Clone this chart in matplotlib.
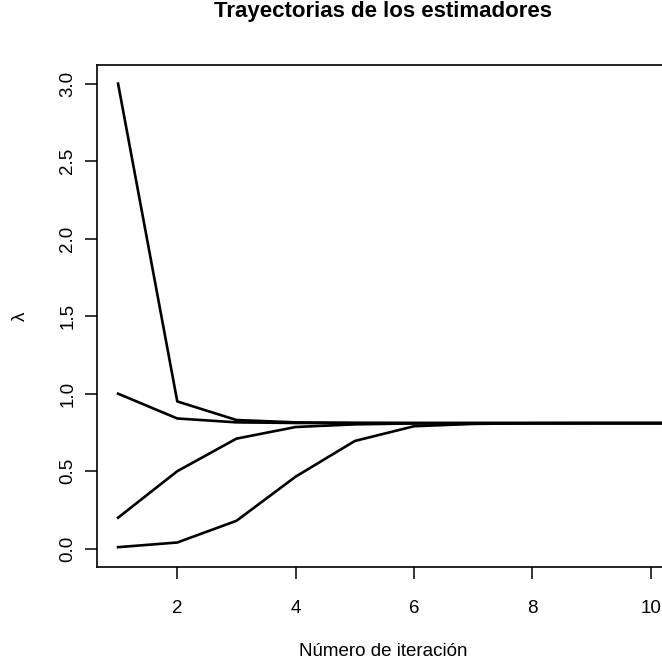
import matplotlib
matplotlib.use("Agg")
import matplotlib.pyplot as plt
import numpy as np

# estimator trajectories from four starting values
iteraciones = np.arange(1, 12)
tray_3 = [3.0, 0.95, 0.83, 0.815, 0.812, 0.811, 0.81, 0.81, 0.81, 0.81, 0.81]
tray_1 = [1.0, 0.84, 0.815, 0.811, 0.81, 0.81, 0.81, 0.81, 0.81, 0.81, 0.81]
tray_02 = [0.2, 0.50, 0.71, 0.785, 0.802, 0.808, 0.81, 0.81, 0.81, 0.81, 0.81]
tray_0 = [0.01, 0.04, 0.18, 0.465, 0.695, 0.79, 0.805, 0.809, 0.81, 0.81, 0.81]
trayectorias = [tray_3, tray_1, tray_02, tray_0]

plt.rcParams['font.family'] = ['Liberation Sans', 'DejaVu Sans']

W, H = 662, 665
fig = plt.figure(figsize=(W / 100, H / 100), dpi=100)
# plot region runs past the right edge of the canvas
x0, x1, y0, y1 = 97, 700, 65, 567
ax = fig.add_axes([x0 / W, 1 - y1 / H, (x1 - x0) / W, (y1 - y0) / H])
aw, ah = x1 - x0, y1 - y0

for tr in trayectorias:
    ax.plot(iteraciones, tr, color='black', lw=1.9)

ax.set_xlim(0.644, 0.644 + aw / 59.2)
ax.set_ylim(-0.118, 3.12)
ax.set_xticks([2, 4, 6, 8, 10])
ax.set_yticks([0.0, 0.5, 1.0, 1.5, 2.0, 2.5, 3.0])
ax.set_yticklabels(['0.0', '0.5', '1.0', '1.5', '2.0', '2.5', '3.0'],
                   rotation=90, va='center')
ax.tick_params(direction='out', length=8.5, width=1.1, labelsize=13.5,
               color='black')
ax.tick_params(axis='x', pad=15)
ax.tick_params(axis='y', pad=6.5)
for sp in ax.spines.values():
    sp.set_linewidth(1.2)

cx = (383 - x0) / aw
ax.set_title('Trayectorias de los estimadores', fontsize=16, fontweight='bold',
             x=cx, y=1 + (y0 - 20) / ah, va='center')
ax.set_xlabel('Número de iteración', fontsize=13.5, va='center')
ax.xaxis.set_label_coords(cx, -(651 - y1) / ah)
ax.set_ylabel('λ', fontsize=13.5, va='center')
ax.yaxis.set_label_coords(-(x0 - 20) / aw, 0.5)

fig.savefig('out.png', dpi=100)
